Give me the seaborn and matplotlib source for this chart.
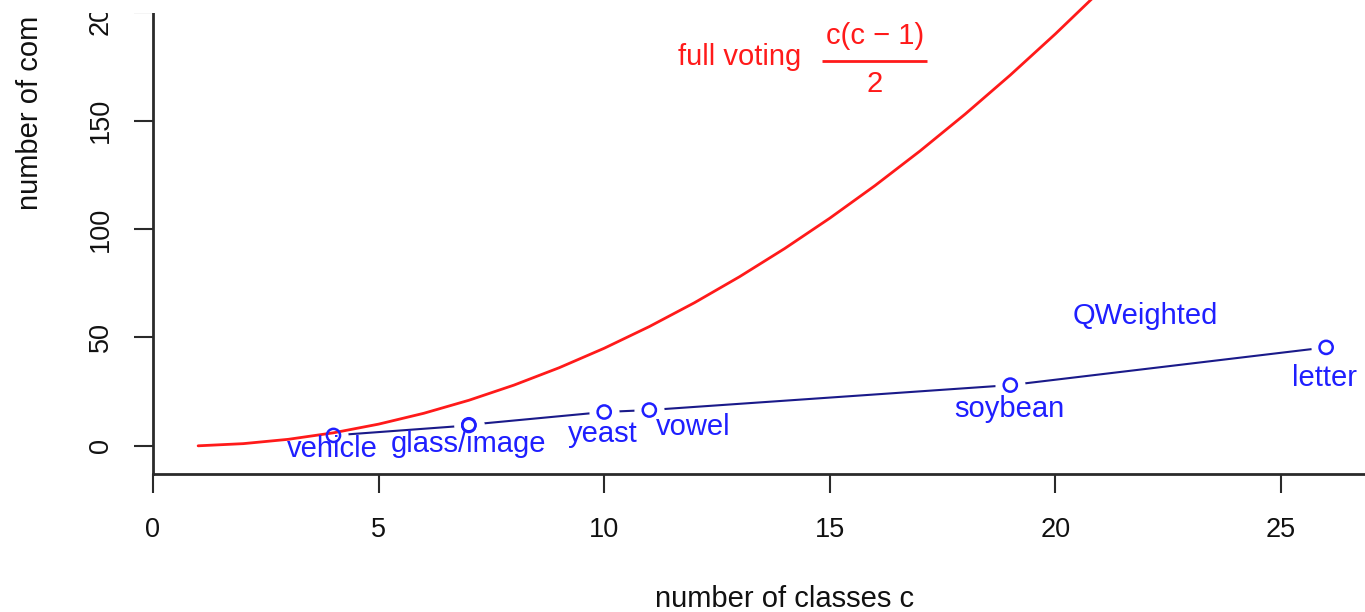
import matplotlib
matplotlib.use("Agg")
import matplotlib.pyplot as plt
import numpy as np
import pandas as pd
import seaborn as sns
from matplotlib.transforms import Bbox

# full voting curve c(c-1)/2 at integer c
full_c = [1, 2, 3, 4, 5, 6, 7, 8, 9, 10, 11, 12, 13, 14, 15, 16, 17, 18, 19, 20,
          21, 22, 23, 24, 25, 26]
full_votes = [0, 1, 3, 6, 10, 15, 21, 28, 36, 45, 55, 66, 78, 91, 105, 120, 136,
              153, 171, 190, 210, 231, 253, 276, 300, 325]

# QWeighted: average number of comparisons per dataset
datasets = ["vehicle", "glass", "image", "yeast", "vowel", "soybean", "letter"]
n_classes = [4, 7, 7, 10, 11, 19, 26]
qweighted = [4.8, 9.4, 9.7, 15.6, 16.5, 28.0, 45.4]

# text labels shown next to the points (glass and image share one label)
point_labels = ["vehicle", "glass/image", "yeast", "vowel", "soybean", "letter"]
label_anchor = [0, 2, 3, 4, 5, 6]  # index into datasets

x_ticks = [0, 5, 10, 15, 20, 25]
y_ticks = [0, 50, 100, 150, 200]

# layout (offsets in points from the data point)
LABEL_OFFSETS = [(-0.7, -15.5), (0, -19.5), (-0.8, -21.6), (31.7, -18.0),
                 (-1.0, -23.0), (-1.4, -28.0)]

W, H, DPI = 1365, 612, 100
RED = "#ff1a1a"
BLUE = "#1f1fff"
NAVY = "#1a1a8a"
AXIS = "#2a2a2a"

sns.set_theme(style="ticks")
plt.rcParams["font.family"] = ["Liberation Sans", "DejaVu Sans"]

full_df = pd.DataFrame({"c": full_c, "votes": full_votes})
qw_df = pd.DataFrame({"dataset": datasets, "c": n_classes, "votes": qweighted})

fig = plt.figure(figsize=(W / DPI, H / DPI), dpi=DPI)

# R-like padding of 4% around the data range
ymin, ymax = 0, max(full_votes)
pad = 0.04 * (ymax - ymin)
ylim = (ymin - pad, ymax + pad)
xlim = (0, 27)
px_per_x = 45.12
px_per_y = 2.168
ax_w = (xlim[1] - xlim[0]) * px_per_x / W
ax_h = (ylim[1] - ylim[0]) * px_per_y / H
ax = fig.add_axes([153 / W, (H - 474.0) / H, ax_w, ax_h])

# QWeighted line (type="b": gaps around the points)
sns.lineplot(data=qw_df, x="c", y="votes", ax=ax, color=NAVY, linewidth=1.5,
             estimator=None, sort=False, zorder=2)
ax.scatter(qw_df["c"], qw_df["votes"], s=470, color="white", linewidths=0, zorder=3)

# full voting curve
sns.lineplot(data=full_df, x="c", y="votes", ax=ax, color=RED, linewidth=2.0,
             estimator=None, sort=False, zorder=4)

sns.scatterplot(data=qw_df, x="c", y="votes", ax=ax, s=90, facecolor="none",
                edgecolor=BLUE, linewidth=1.8, zorder=5)

for name, idx, (dx, dy) in zip(point_labels, label_anchor, LABEL_OFFSETS):
    ax.annotate(name, (n_classes[idx], qweighted[idx]), xytext=(dx, dy),
                textcoords="offset points", ha="center", va="baseline",
                color=BLUE, fontsize=21, zorder=6)

ax.text(22.0, 56.4, "QWeighted", color=BLUE, fontsize=21, ha="center", va="baseline")
ax.text(13.0, 175.7, "full voting", color=RED, fontsize=21, ha="center", va="baseline")

# fraction c(c-1)/2 built from two texts and a bar
ax.text(16.0, 185.3, "c(c \u2212 1)", color=RED, fontsize=21, ha="center", va="baseline")
ax.text(16.0, 163.3, "2", color=RED, fontsize=21, ha="center", va="baseline")
ax.plot([14.83, 17.16], [177.5, 177.5], color=RED, linewidth=2.0,
        solid_capstyle="butt", zorder=4)

ax.set_xlim(*xlim)
ax.set_ylim(*ylim)
ax.set_xticks(x_ticks)
ax.set_yticks(y_ticks)
ax.set_xlabel("")
ax.set_ylabel("")
ax.tick_params(axis="both", direction="out", length=14, width=1.5, colors=AXIS,
               labelsize=19.5, labelcolor="#111111")
ax.tick_params(axis="x", pad=17)
ax.tick_params(axis="y", pad=14)
for lab in ax.get_yticklabels():
    lab.set_rotation(90)
    lab.set_va("center")
for side in ["top", "right"]:
    ax.spines[side].set_visible(False)
for side in ["left", "bottom"]:
    ax.spines[side].set_color(AXIS)
    ax.spines[side].set_linewidth(2.0)

# the reference is cut just above the top tick: clip the y axis there
clip = Bbox.from_extents(0, 0, W, H - 13)
ax.spines["left"].set_clip_box(clip)
for art in list(ax.get_yticklabels()) + list(ax.yaxis.get_ticklines()):
    art.set_clip_box(clip)
    art.set_clip_on(True)

fig.text(785 / W, (H - 607) / H, "number of classes c", fontsize=21,
         ha="center", va="baseline", color="#111111")
fig.text(30 / W, (H - 210) / H, "number of com", fontsize=21, rotation=90,
         ha="center", va="bottom", color="#111111")

fig.savefig("out.png", dpi=DPI)
plt.close(fig)
